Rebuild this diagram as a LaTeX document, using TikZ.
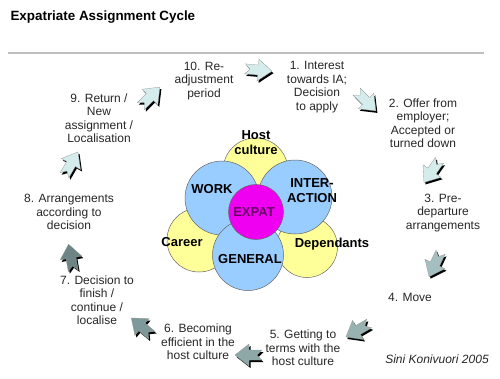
\documentclass[tikz,border=0pt]{standalone}
\usepackage{fontspec}
\setmainfont{Liberation Sans}
\definecolor{petalyellow}{HTML}{FFFF99}
\definecolor{petalblue}{HTML}{99CCFF}
\definecolor{expatpink}{HTML}{F000F0}
\definecolor{expattext}{HTML}{660066}
\definecolor{arrowlight}{HTML}{D4ECEC}
\definecolor{arrowgreyA}{HTML}{A5BFC0}
\definecolor{arrowgreyB}{HTML}{98B2B2}
\definecolor{arrowgreyC}{HTML}{8EA8A8}
\definecolor{arrowgreyD}{HTML}{7F9899}
\definecolor{arrowgreyE}{HTML}{6D8585}
\begin{document}
\begin{tikzpicture}[x=1pt,y=-1pt]
  \tikzset{stage/.style={font=\fontsize{12}{13.5}\selectfont,align=center,text=black!85},
    petal/.style={circle,draw=black!60,line width=0.5pt,inner sep=0pt},
    word/.style={font=\fontsize{13}{15}\selectfont\bfseries,align=center}}
  \def\arrowshape{(-13,-5)--(0,-5)--(0,-11)--(14,0)--(0,11)--(0,5)--(-13,5)--(-8,0)--cycle}
  \useasboundingbox (0,0) rectangle (500,378);
  \node[anchor=west,font=\fontsize{13.4}{16}\selectfont\bfseries] (title) at (7,17) {Expatriate Assignment Cycle};
  \draw[black!25,line width=1.2pt] (8,53)--(484,53);
  % flower
  \node[petal,fill=petalyellow,minimum size=65] (host) at (255.5,170.5) {};
  \node[petal,fill=petalyellow,minimum size=64] (career) at (199,240) {};
  \node[petal,fill=petalyellow,minimum size=61] (dep) at (307,247) {};
  \node[petal,fill=petalblue,minimum size=74] (work) at (222,198) {};
  \node[petal,fill=petalblue,minimum size=74] (inter) at (295,197) {};
  \node[petal,fill=petalblue,minimum size=71] (general) at (248,255) {};
  \node[petal,fill=expatpink,minimum size=55] (expat) at (256,212) {};
  \node[word] (hostlabel) at (256,143) {Host\\culture};
  \node[word] (worklabel) at (212,189) {WORK};
  \node[word] (interlabel) at (312,191) {INTER-\\ACTION};
  \node[word,text=expattext] (expatlabel) at (254,212) {EXPAT};
  \node[word] (careerlabel) at (182,242) {Career};
  \node[word] (deplabel) at (332,244) {Dependants};
  \node[word] (generallabel) at (250,259) {GENERAL};
  % stages
  \node[stage] (stage1) at (317,87) {1. Interest\\towards IA;\\Decision\\to apply};
  \node[stage] (stage2) at (423,123) {2. Offer from\\employer;\\Accepted or\\turned down};
  \node[stage] (stage3) at (443,213) {3. Pre-\\departure\\arrangements};
  \node[stage] (stage4) at (410,297) {4. Move};
  \node[stage] (stage5) at (303,348) {5. Getting to\\terms with the\\host culture};
  \node[stage] (stage6) at (198,342) {6. Becoming\\efficient in the\\host culture};
  \node[stage] (stage7) at (97,300) {7. Decision to\\finish /\\continue /\\localise};
  \node[stage] (stage8) at (69,212) {8. Arrangements\\according to\\decision};
  \node[stage] (stage9) at (99,118) {9. Return /\\New\\assignment /\\Localisation};
  \node[stage] (stage10) at (204,81) {10. Re-\\adjustment\\period};
  \node[font=\fontsize{12}{14}\selectfont\itshape,text=black!85] (author) at (437,359) {Sini Konivuori 2005};
  % block arrows
  \foreach \x/\y/\ang/\col in {150/97/45/arrowlight, 258/70/-5/arrowlight, 366/101/-45/arrowlight,
      432/171/-125/arrowlight, 435/264/-115/arrowgreyA, 358/330/-150/arrowgreyB,
      249/355/180/arrowgreyC, 142/327/140/arrowgreyD, 71/258/100/arrowgreyE, 71/164/60/arrowlight}{
    \fill[black,shift={(\x,\y)},xshift=1.5pt,yshift=-2pt,rotate=\ang] \arrowshape;
    \filldraw[fill=\col,draw=black!40,line width=0.3pt,shift={(\x,\y)},rotate=\ang] \arrowshape;
  }
\end{tikzpicture}
\end{document}
